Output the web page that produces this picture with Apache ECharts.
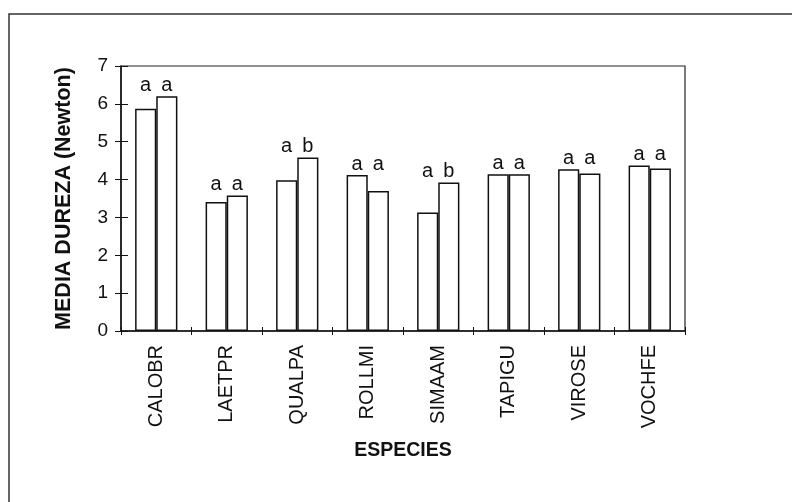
<!DOCTYPE html>
<html>
<head>
<meta charset="utf-8">
<script src="https://cdn.jsdelivr.net/npm/echarts@6/dist/echarts.min.js"></script>
<style>
  html, body { margin: 0; padding: 0; background: #fff; }
  #chart { width: 792px; height: 502px; }
</style>
</head>
<body>
<div id="chart"></div>
<script>
// Species codes along the x axis
var especies = ['CALOBR', 'LAETPR', 'QUALPA', 'ROLLMI', 'SIMAAM', 'TAPIGU', 'VIROSE', 'VOCHFE'];
// Mean hardness (Newton), first and second bar of each species
var durezaA = [5.87, 3.41, 3.98, 4.12, 3.13, 4.14, 4.27, 4.37];
var durezaB = [6.20, 3.58, 4.58, 3.70, 3.92, 4.14, 4.16, 4.29];
// Significance letters above each bar
var letrasA = ['a', 'a', 'a', 'a', 'a', 'a', 'a', 'a'];
var letrasB = ['a', 'a', 'b', 'a', 'b', 'a', 'a', 'a'];
// Y axis range
var yMin = 0, yMax = 7, yStep = 1;

// Letters sit at the height of the taller bar of each pair
var alturaLetra = durezaA.map(function (v, i) { return Math.max(v, durezaB[i]); });

var FONT = 'Liberation Sans, Arial, sans-serif';
var INK = '#111';

var chart = echarts.init(document.getElementById('chart'), null, { renderer: 'canvas' });

var barStyle = { color: '#fff', borderColor: INK, borderWidth: 1.5 };

function letterSeries(letters) {
  return {
    type: 'bar',
    xAxisIndex: 1,
    yAxisIndex: 0,
    data: alturaLetra,
    barGap: '0%',
    barCategoryGap: '40%',
    silent: true,
    itemStyle: { color: 'rgba(0,0,0,0)', borderWidth: 0 },
    label: {
      show: true,
      position: 'top',
      distance: 1,
      fontFamily: FONT,
      fontSize: 20,
      color: INK,
      formatter: function (p) { return letters[p.dataIndex]; }
    },
    z: 5
  };
}

chart.setOption({
  animation: false,
  backgroundColor: '#fff',
  grid: {
    left: 121, top: 66, right: 107, bottom: 171,
    show: true, borderColor: '#222', borderWidth: 1.2, backgroundColor: 'transparent'
  },
  graphic: [{
    type: 'rect',
    shape: { x: 9, y: 14, width: 820, height: 520 },
    style: { fill: 'none', stroke: '#333', lineWidth: 1.5 },
    silent: true
  }],
  xAxis: [{
    type: 'category',
    data: especies,
    position: 'bottom',
    axisLine: { show: true, lineStyle: { color: INK, width: 1.5 } },
    axisTick: { show: true, length: 4, lineStyle: { color: INK, width: 1 } },
    axisLabel: {
      rotate: 90, margin: 14, fontFamily: FONT, fontSize: 20, color: INK
    },
    name: 'ESPECIES',
    nameLocation: 'middle',
    nameGap: 110,
    nameTextStyle: { fontFamily: FONT, fontSize: 19.5, fontWeight: 'bold', color: INK }
  }, {
    type: 'category',
    data: especies,
    position: 'bottom',
    axisLine: { show: false },
    axisTick: { show: true, inside: true, length: 4, lineStyle: { color: INK, width: 1 } },
    axisLabel: { show: false }
  }],
  yAxis: [{
    type: 'value',
    min: yMin, max: yMax, interval: yStep,
    axisLine: { show: true, lineStyle: { color: INK, width: 1.5 } },
    axisTick: { show: true, length: 6, lineStyle: { color: INK, width: 1 } },
    splitLine: { show: false },
    axisLabel: { margin: 13, fontFamily: FONT, fontSize: 19, color: INK },
    name: 'MEDIA DUREZA (Newton)',
    nameLocation: 'middle',
    nameGap: 46,
    nameTextStyle: { fontFamily: FONT, fontSize: 21.5, fontWeight: 'bold', color: INK }
  }, {
    type: 'value',
    position: 'left',
    min: yMin, max: yMax, interval: yStep,
    axisLine: { show: false },
    axisTick: { show: true, inside: true, length: 7, lineStyle: { color: INK, width: 1 } },
    splitLine: { show: false },
    axisLabel: { show: false }
  }],
  series: [{
    type: 'bar',
    xAxisIndex: 0,
    yAxisIndex: 0,
    data: durezaA,
    barGap: '0%',
    barCategoryGap: '40%',
    itemStyle: barStyle
  }, {
    type: 'bar',
    xAxisIndex: 0,
    yAxisIndex: 0,
    data: durezaB,
    barGap: '0%',
    barCategoryGap: '40%',
    itemStyle: barStyle
  },
  letterSeries(letrasA),
  letterSeries(letrasB)
  ]
});
</script>
</body>
</html>
